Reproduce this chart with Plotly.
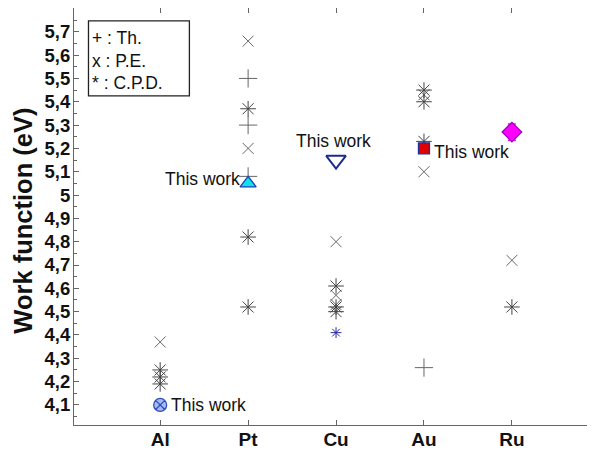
import plotly.graph_objects as go

metals = ["Al", "Pt", "Cu", "Au", "Ru"]

# theoretical (+)
th_metal = ["Pt", "Pt", "Pt", "Au"]
th_wf = [5.50, 5.30, 5.08, 4.26]

# photoemission (x)
pe_metal = ["Al", "Pt", "Pt", "Cu", "Cu", "Cu", "Au", "Au", "Ru"]
pe_wf = [4.37, 5.66, 5.20, 4.80, 4.57, 4.53, 5.43, 5.10, 4.72]

# contact potential difference (*)
cpd_metal = ["Al", "Al", "Al", "Pt", "Pt", "Pt", "Cu", "Cu", "Cu", "Au", "Au", "Au", "Ru"]
cpd_wf = [4.25, 4.22, 4.19, 5.37, 4.82, 4.52, 4.61, 4.52, 4.50, 5.45, 5.40, 5.23, 4.52]

cu_blue_wf = [4.41]

# this work
tw_metal = ["Al", "Pt", "Cu", "Au", "Ru"]
tw_wf = [4.10, 5.05, 5.15, 5.20, 5.27]
ru_err = 0.035

ytick_vals = [4.1 + 0.1 * i for i in range(17)]
ytick_text = ["4,1", "4,2", "4,3", "4,4", "4,5", "4,6", "4,7", "4,8", "4,9", "5",
              "5,1", "5,2", "5,3", "5,4", "5,5", "5,6", "5,7"]

pos = {m: i + 1 for i, m in enumerate(metals)}
font = "Liberation Sans, Arial, sans-serif"
grey = "#666666"

fig = go.Figure()

fig.add_trace(go.Scatter(x=[pos[m] for m in th_metal], y=th_wf, mode="markers",
                         marker=dict(symbol="cross-thin-open", size=13, color=grey,
                                     line=dict(width=1, color=grey))))
fig.add_trace(go.Scatter(x=[pos[m] for m in pe_metal], y=pe_wf, mode="markers",
                         marker=dict(symbol="x-thin-open", size=11, color=grey,
                                     line=dict(width=1, color=grey))))
fig.add_trace(go.Scatter(x=[pos[m] for m in cpd_metal], y=cpd_wf, mode="markers",
                         marker=dict(symbol="asterisk-open", size=13, color="#444444",
                                     line=dict(width=1, color="#444444"))))
fig.add_trace(go.Scatter(x=[pos["Cu"]], y=cu_blue_wf, mode="markers",
                         marker=dict(symbol="asterisk-open", size=9, color="#2a2aa0",
                                     line=dict(width=1, color="#2a2aa0"))))

# this work markers
styles = {
    "Al": dict(symbol="circle-x", size=13, color="#a8baf0", line=dict(width=1.3, color="#2f4fc0")),
    "Pt": dict(symbol="triangle-up", size=14, color="#10e0f0", line=dict(width=1.3, color="#2040b0")),
    "Cu": dict(symbol="triangle-down-open", size=17, color="#1c2c8c", line=dict(width=2, color="#1c2c8c")),
    "Au": dict(symbol="square", size=11, color="#e00000", line=dict(width=1.3, color="#2030a0")),
    "Ru": dict(symbol="diamond", size=15, color="#ff00ff", line=dict(width=1.3, color="#a000c0")),
}
for m, v in zip(tw_metal, tw_wf):
    err = None
    if m == "Ru":
        err = dict(type="constant", value=ru_err, color="#ff00ff", thickness=1.5, width=4)
    fig.add_trace(go.Scatter(x=[pos[m]], y=[v], mode="markers", marker=styles[m], error_y=err))

# "This work" labels
lab = dict(text="This work", showarrow=False, font=dict(family=font, size=17.5, color="#111111"))
fig.add_annotation(x=pos["Al"], y=tw_wf[0], xanchor="left", xshift=9, **lab)
fig.add_annotation(x=pos["Pt"], y=tw_wf[1], xanchor="right", xshift=-6, yshift=4, **lab)
fig.add_annotation(x=pos["Cu"], y=tw_wf[2], yanchor="bottom", yshift=7, xshift=-3, **lab)
fig.add_annotation(x=pos["Au"], y=tw_wf[3], xanchor="left", xshift=8, yshift=-4, **lab)

# legend box
fig.add_shape(type="rect", xref="paper", yref="paper", x0=0.0278, x1=0.2215,
              y0=0.7895, y1=0.9689, line=dict(color="#222222", width=1.3), fillcolor="white")
for i, t in enumerate(["+ : Th.", "x : P.E.", "* : C.P.D."]):
    fig.add_annotation(xref="paper", yref="paper", x=0.031, y=0.928 - i * 0.054,
                       xanchor="left", yanchor="middle", text=t, showarrow=False,
                       font=dict(family=font, size=17.5, color="#111111"))

# y axis title placed by hand
fig.add_annotation(xref="paper", yref="paper", x=0, y=0.49, xshift=-51, textangle=-90,
                   xanchor="center", yanchor="middle",
                   text="<b>Work function (eV)</b>", showarrow=False,
                   font=dict(family=font, size=25.5, color="#111111"))

# page body adds an 8px offset, so the figure is 8px smaller than the window
fig.update_layout(
    width=587, height=442,
    margin=dict(l=65.6, r=0, t=0, b=25),
    plot_bgcolor="white", paper_bgcolor="white",
    showlegend=False,
    font=dict(family=font, color="#111111"),
)
fig.update_xaxes(range=[0.02, 5.945], tickvals=[1, 2, 3, 4, 5],
                 ticktext=["<b>%s</b>" % m for m in metals], automargin=False,
                 ticks="inside", ticklen=5, tickcolor=grey, showline=True, linecolor=grey,
                 linewidth=1, mirror="ticks", showgrid=False, zeroline=False,
                 ticklabelstandoff=-3,
                 tickfont=dict(family=font, size=19, color="#111111"))
fig.update_yaxes(range=[4.014, 5.802], tickvals=ytick_vals,
                 ticktext=["<b>%s</b>" % t for t in ytick_text], automargin=False,
                 ticks="inside", ticklen=5, tickcolor=grey, showline=True, linecolor=grey,
                 linewidth=1, mirror="ticks", showgrid=False, zeroline=False,
                 ticklabelstandoff=-1,
                 minor=dict(ticks="inside", dtick=0.05, ticklen=3, tickcolor=grey),
                 tickfont=dict(family=font, size=18.5, color="#111111"))

fig.write_html("out.html")
